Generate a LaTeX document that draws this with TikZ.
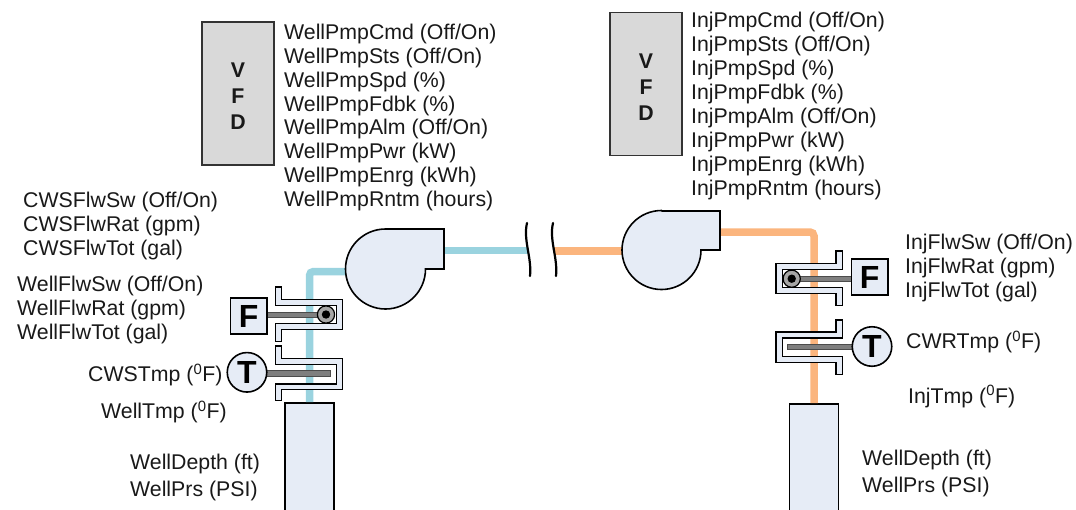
\documentclass[tikz,border=0pt]{standalone}
\usepackage{fontspec}
\setmainfont{Liberation Sans}
\definecolor{bluepipe}{HTML}{9AD3DF}
\definecolor{orangepipe}{HTML}{FBB57E}
\definecolor{lightfill}{HTML}{E6ECF6}
\definecolor{vfdgray}{HTML}{D9D9D9}
\definecolor{rodgray}{HTML}{7F7F7F}
\definecolor{ringgray}{HTML}{A6A6A6}
\tikzset{
  x=1pt,y=-1pt,
  outline/.style={draw=black,line width=1.6pt,line join=miter},
  pipeblue/.style={draw=bluepipe,line width=7.5pt,rounded corners=4pt},
  pipeorange/.style={draw=orangepipe,line width=7.5pt,rounded corners=4pt},
  txt/.style={font=\fontsize{21.3}{23.95}\selectfont,align=left,anchor=west,inner sep=0pt,text=black!90},
  pumpbody/.style={outline,fill=lightfill},
  wellbox/.style={outline,fill=lightfill,minimum width=49pt,minimum height=120pt,inner sep=0pt,anchor=north},
  vfdbox/.style={draw=black!80,line width=1.3pt,fill=vfdgray,minimum width=72pt,minimum height=143pt,inner sep=0pt,align=center,font=\fontsize{21.3}{26}\selectfont\bfseries,text=black!90},
  collar/.style={outline,fill=lightfill},
  rod/.style={draw=black!70,line width=0.6pt,fill=rodgray},
  sensorbox/.style={outline,fill=lightfill,minimum width=36.5pt,minimum height=36.5pt,inner sep=0pt,font=\fontsize{32}{32}\selectfont\bfseries},
  sensorcirc/.style={outline,circle,fill=lightfill,minimum size=39.5pt,inner sep=0pt,font=\fontsize{32}{32}\selectfont\bfseries},
  ring/.style={draw=black,line width=1.2pt,fill=ringgray},
  hub/.style={fill=black},
  breakline/.style={draw=black,line width=2.2pt,line cap=round},
}
\begin{document}
\begin{tikzpicture}
\useasboundingbox (0,0) rectangle (1076,509);
% wells
\node[wellbox] (wellL) at (309.5,402) {};
\node[wellbox] (wellR) at (814,403) {};
% ports
\coordinate (pumpLin) at (346,271.5);
\coordinate (pumpLout) at (444,250.5);
\coordinate (pumpRin) at (622,251);
\coordinate (pumpRout) at (720,232);
\coordinate (breakA) at (528,250.5);
\coordinate (breakB) at (554,251);
% pipes
\draw[pipeblue] (wellL.north) |- (pumpLin);
\draw[pipeblue] (pumpLout) -- (breakA);
\draw[pipeorange] (breakB) -- (pumpRin);
\draw[pipeorange] (pumpRout) -| (wellR.north);
% pumps
\draw[pumpbody] (385.5,229) -- (444,229) -- (444,269) -- (425.5,269) arc[start angle=0,end angle=270,radius=40] -- cycle;
\draw[pumpbody] (662,211) -- (720,211) -- (720,250) -- (701,250) arc[start angle=0,end angle=270,radius=39.5] -- cycle;
% pipe break marks
\draw[breakline] (527,223) .. controls (523,240) and (532,258) .. (530,276);
\draw[breakline] (553,223) .. controls (549,240) and (558,258) .. (556,276);
% VFDs
\node[vfdbox] (vfdL) at (238,93.5) {\rule{0pt}{20pt}V\\F\\D};
\node[vfdbox] (vfdR) at (646,84) {\rule{0pt}{20pt}V\\F\\D};
% left flow sensor
\draw[collar] (275.3,286.7) -- (281.5,286.7) -- (281.5,299.3) -- (342.3,299.3) -- (342.3,329.3) -- (281.5,329.3) -- (281.5,341.3) -- (275.3,341.3) -- (275.3,323.3) -- (336.3,323.3) -- (336.3,305.3) -- (275.3,305.3) -- cycle;
\draw[rod] (265,312) rectangle (322,317.3);
\draw[ring] (326,314.5) circle[radius=8.6];
\fill[hub] (326,314.5) circle[radius=4.2];
\node[sensorbox] (flowL) at (248.7,316) {F};
% left temperature sensor
\draw[collar] (275.3,345.7) -- (281.5,345.7) -- (281.5,358.3) -- (342.3,358.3) -- (342.3,389.5) -- (281.5,389.5) -- (281.5,400.3) -- (275.3,400.3) -- (275.3,383.7) -- (336.3,383.7) -- (336.3,364.3) -- (275.3,364.3) -- cycle;
\draw[rod] (262,370.7) rectangle (330.3,376);
\node[sensorcirc] (tempL) at (247,372.3) {T};
% right flow sensor
\draw[collar] (842.3,251) -- (836,251) -- (836,263.3) -- (776,263.3) -- (776,293.3) -- (836,293.3) -- (836,305.3) -- (842.3,305.3) -- (842.3,287.3) -- (782.3,287.3) -- (782.3,269.3) -- (842.3,269.3) -- cycle;
\draw[rod] (853,276.3) rectangle (796,281.7);
\draw[ring] (791.7,278.7) circle[radius=8.6];
\fill[hub] (791.7,278.7) circle[radius=4.2];
\node[sensorbox] (flowR) at (869.7,277) {F};
% right temperature sensor
\draw[collar] (842.3,319.7) -- (836,319.7) -- (836,331.7) -- (776,331.7) -- (776,362.3) -- (836,362.3) -- (836,374.3) -- (842.3,374.3) -- (842.3,356.3) -- (782.3,356.3) -- (782.3,337.7) -- (842.3,337.7) -- cycle;
\draw[rod] (856,344) rectangle (787.7,349.5);
\node[sensorcirc] (tempR) at (872,346.5) {T};
% labels
\node[txt] (t1) at (284,117.5) {WellPmpCmd (Off/On)\\WellPmpSts (Off/On)\\WellPmpSpd (\%)\\WellPmpFdbk (\%)\\WellPmpAlm (Off/On)\\WellPmpPwr (kW)\\WellPmpEnrg (kWh)\\WellPmpRntm (hours)};
\node[txt] (t2) at (691,106) {InjPmpCmd (Off/On)\\InjPmpSts (Off/On)\\InjPmpSpd (\%)\\InjPmpFdbk (\%)\\InjPmpAlm (Off/On)\\InjPmpPwr (kW)\\InjPmpEnrg (kWh)\\InjPmpRntm (hours)};
\node[txt] (t3) at (23,225.7) {CWSFlwSw (Off/On)\\CWSFlwRat (gpm)\\CWSFlwTot (gal)};
\node[txt] (t4) at (17,310) {WellFlwSw (Off/On)\\WellFlwRat (gpm)\\WellFlwTot (gal)};
\node[txt] (t5) at (88,375) {CWSTmp (\textsuperscript{0}F)};
\node[txt] (t6) at (101,411.8) {WellTmp (\textsuperscript{0}F)};
\node[txt] (t7) at (130,477.8) {WellDepth (ft)\\[3pt]WellPrs (PSI)};
\node[txt] (t8) at (905,268) {InjFlwSw (Off/On)\\InjFlwRat (gpm)\\InjFlwTot (gal)};
\node[txt] (t9) at (906,342) {CWRTmp (\textsuperscript{0}F)};
\node[txt] (t10) at (908,396.5) {InjTmp (\textsuperscript{0}F)};
\node[txt] (t11) at (862,473.8) {WellDepth (ft)\\[3pt]WellPrs (PSI)};
\end{tikzpicture}
\end{document}
